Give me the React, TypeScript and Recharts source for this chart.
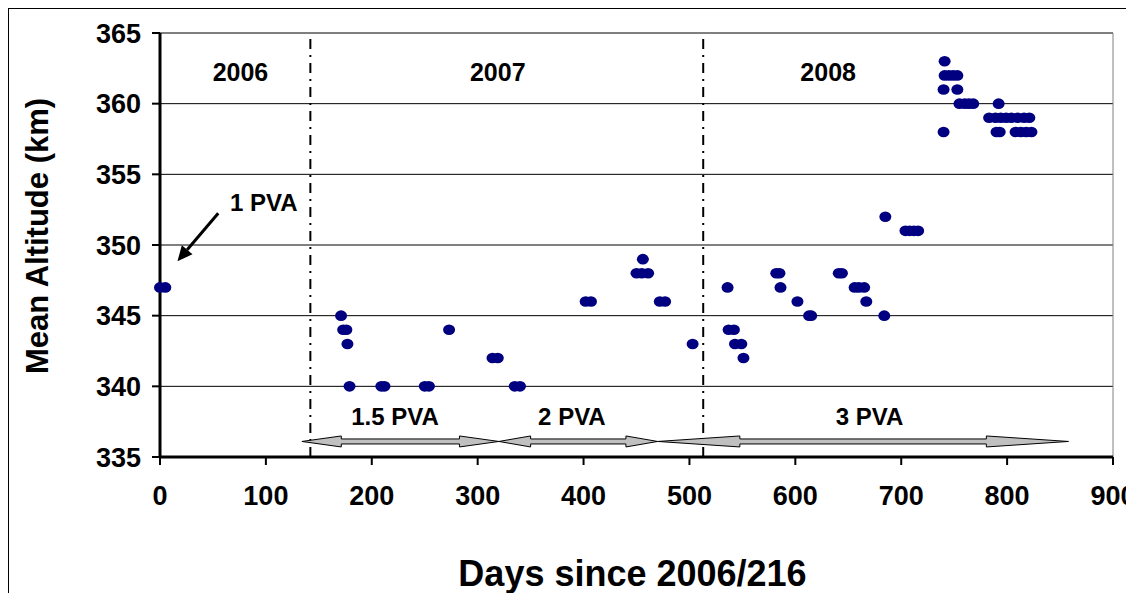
import React from 'react';
import {
  ScatterChart,
  Scatter,
  XAxis,
  YAxis,
  CartesianGrid,
  ReferenceLine,
  ReferenceDot,
} from 'recharts';

// axis ticks
const X_TICKS = [0, 100, 200, 300, 400, 500, 600, 700, 800, 900];
const Y_TICKS = [335, 340, 345, 350, 355, 360, 365];

// mean altitude samples, days since 2006/216
const DAYS_2006 = [0, 5];
const ALT_2006 = [347, 347];

const DAYS_2007 = [171, 173, 176, 177, 179, 209, 212, 250, 254, 273, 314, 319, 335, 340, 402, 407, 450, 455, 461, 456, 472, 477, 503];
const ALT_2007 = [345, 344, 344, 343, 340, 340, 340, 340, 340, 344, 342, 342, 340, 340, 346, 346, 348, 348, 348, 349, 346, 346, 343];

const DAYS_2008 = [
  536, 537, 542, 543, 549, 551, 582, 585, 586, 602, 613, 615, 641, 644, 656, 660, 665, 667, 684, 685,
  704, 708, 712, 716, 741, 741, 745, 749, 753, 740, 753, 755, 760, 764, 768, 792,
  783, 789, 794, 799, 804, 810, 816, 821, 740, 790, 793, 808, 813, 818, 823,
];
const ALT_2008 = [
  347, 344, 344, 343, 343, 342, 348, 348, 347, 346, 345, 345, 348, 348, 347, 347, 347, 346, 345, 352,
  351, 351, 351, 351, 363, 362, 362, 362, 362, 361, 361, 360, 360, 360, 360, 360,
  359, 359, 359, 359, 359, 359, 359, 359, 358, 358, 358, 358, 358, 358, 358,
];

// year boundaries and annotations
const YEAR_BOUNDARIES = [142, 513];
const YEAR_NAMES = ['2006', '2007', '2008'];
const YEAR_LABEL_DAYS = [76, 319, 631];
const YEAR_LABEL_ALT = 362.2;

const PVA_NAMES = ['1.5 PVA', '2 PVA', '3 PVA'];
const PVA_FROM = [134, 320, 470];
const PVA_TO = [320, 470, 858];
const PVA_LABEL_DAYS = [222, 389, 670];
const PVA_ARROW_ALT = 336.1;
const PVA_LABEL_ALT = 337.9;

const ONE_PVA = { label: '1 PVA', labelDay: 98, labelAlt: 353, fromDay: 55, fromAlt: 352.25, toDay: 16.5, toAlt: 348.85 };

const toPoints = (days: number[], alts: number[]) => days.map((d, i) => ({ day: d, alt: alts[i] }));
const points = [
  ...toPoints(DAYS_2006, ALT_2006),
  ...toPoints(DAYS_2007, ALT_2007),
  ...toPoints(DAYS_2008, ALT_2008),
];

const Dot = (props: any) => (
  <ellipse cx={props.cx} cy={props.cy} rx={6} ry={5.3} fill="#000080" />
);

const DoubleArrow = (props: any) => {
  const { x1, x2, y1 } = props;
  const len = x2 - x1;
  const h = len * 0.2;
  const sh = 2.5;
  const hh = 5.5;
  const y = y1;
  const pts = [
    [x1, y], [x1 + h, y - hh], [x1 + h, y - sh], [x2 - h, y - sh], [x2 - h, y - hh],
    [x2, y], [x2 - h, y + hh], [x2 - h, y + sh], [x1 + h, y + sh], [x1 + h, y + hh],
  ].map((p) => p.join(',')).join(' ');
  return <polygon points={pts} fill="#c0c0c0" stroke="#000" strokeWidth={1} />;
};

const PointerArrow = (props: any) => {
  const { x1, y1, x2, y2 } = props;
  const ang = Math.atan2(y2 - y1, x2 - x1);
  const hl = 15;
  const hw = 7;
  const bx = x2 - hl * Math.cos(ang);
  const by = y2 - hl * Math.sin(ang);
  const px = -Math.sin(ang) * hw;
  const py = Math.cos(ang) * hw;
  return (
    <g>
      <line x1={x1} y1={y1} x2={bx} y2={by} stroke="#000" strokeWidth={3} />
      <polygon points={`${x2},${y2} ${bx + px},${by + py} ${bx - px},${by - py}`} fill="#000" />
    </g>
  );
};

const textLabel = (value: string, fontSize: number) => ({
  value,
  position: 'center' as const,
  fill: '#000',
  fontSize,
  fontWeight: 'bold',
});

export default function App() {
  return (
    <div
      style={{
        position: 'relative',
        width: 1126,
        height: 585,
        fontFamily: 'Arial, "Liberation Sans", sans-serif',
        borderTop: '1px solid #000',
        borderLeft: '1px solid #000',
        boxSizing: 'border-box',
      }}
    >
      <div style={{ position: 'absolute', left: -1, top: -1 }}>
        <ScatterChart width={1126} height={585} margin={{ top: 25, right: 21, bottom: 0, left: 0 }}>
          <CartesianGrid vertical={false} stroke="#000" strokeWidth={1} />
          <XAxis
            type="number"
            dataKey="day"
            domain={[0, 900]}
            ticks={X_TICKS}
            interval={0}
            height={136}
            axisLine={{ stroke: '#000', strokeWidth: 3 }}
            tickLine={{ stroke: '#000', strokeWidth: 2 }}
            tickSize={8}
            tickMargin={21}
            tick={{ fill: '#000', fontSize: 27, fontWeight: 'bold' }}
            label={{
              content: (p: any) => {
                const vb = p.viewBox;
                return (
                  <text
                    x={vb.x + vb.width / 2 - 4}
                    y={vb.y + 129}
                    textAnchor="middle"
                    fill="#000"
                    fontSize={36}
                    fontWeight="bold"
                  >
                    Days since 2006/216
                  </text>
                );
              },
            }}
          />
          <YAxis
            type="number"
            dataKey="alt"
            domain={[335, 365]}
            ticks={Y_TICKS}
            interval={0}
            width={152}
            axisLine={{ stroke: '#000', strokeWidth: 3 }}
            tickLine={{ stroke: '#000', strokeWidth: 2 }}
            tickSize={8}
            tickMargin={11}
            tick={{ fill: '#000', fontSize: 27, fontWeight: 'bold' }}
            label={{
              content: (p: any) => {
                const vb = p.viewBox;
                return (
                  <text
                    transform={`translate(${vb.x + 29}, ${vb.y + vb.height / 2 - 9}) rotate(-90)`}
                    textAnchor="middle"
                    dominantBaseline="central"
                    fill="#000"
                    fontSize={31}
                    fontWeight="bold"
                  >
                    Mean Altitude (km)
                  </text>
                );
              },
            }}
          />
          <ReferenceLine x={900} stroke="#808080" strokeWidth={1} />
          {YEAR_BOUNDARIES.map((d) => (
            <ReferenceLine key={d} x={d} stroke="#000" strokeWidth={2} strokeDasharray="10 6 2 6" />
          ))}
          {YEAR_NAMES.map((name, i) => (
            <ReferenceDot key={name} x={YEAR_LABEL_DAYS[i]} y={YEAR_LABEL_ALT} r={0} stroke="none" label={textLabel(name, 25)} />
          ))}
          {PVA_NAMES.map((name, i) => (
            <ReferenceLine
              key={name}
              segment={[{ x: PVA_FROM[i], y: PVA_ARROW_ALT }, { x: PVA_TO[i], y: PVA_ARROW_ALT }]}
              shape={DoubleArrow}
            />
          ))}
          {PVA_NAMES.map((name, i) => (
            <ReferenceDot key={name + 'l'} x={PVA_LABEL_DAYS[i]} y={PVA_LABEL_ALT} r={0} stroke="none" label={textLabel(name, 24)} />
          ))}
          <ReferenceLine
            segment={[{ x: ONE_PVA.fromDay, y: ONE_PVA.fromAlt }, { x: ONE_PVA.toDay, y: ONE_PVA.toAlt }]}
            shape={PointerArrow}
          />
          <ReferenceDot x={ONE_PVA.labelDay} y={ONE_PVA.labelAlt} r={0} stroke="none" label={textLabel(ONE_PVA.label, 24)} />
          <Scatter data={points} shape={Dot} isAnimationActive={false} />
        </ScatterChart>
      </div>
    </div>
  );
}
